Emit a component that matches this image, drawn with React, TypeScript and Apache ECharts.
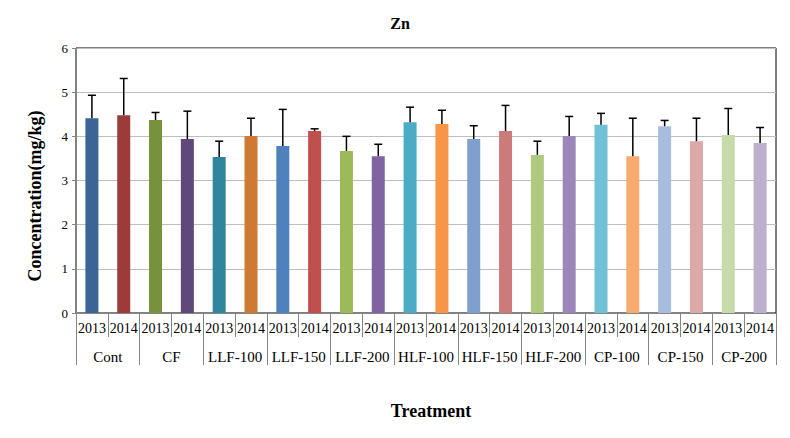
import React, { useEffect, useRef } from "react";
import * as echarts from "echarts";

const groups = ["Cont", "CF", "LLF-100", "LLF-150", "LLF-200", "HLF-100", "HLF-150", "HLF-200", "CP-100", "CP-150", "CP-200"];
const years = ["2013", "2014"];
const values = [4.41, 4.48, 4.37, 3.94, 3.53, 4.01, 3.78, 4.12, 3.67, 3.55, 4.32, 4.28, 3.94, 4.12, 3.58, 4.01, 4.26, 3.55, 4.23, 3.89, 4.03, 3.85];
const errTops = [4.93, 5.31, 4.54, 4.57, 3.89, 4.41, 4.61, 4.17, 4.0, 3.82, 4.66, 4.59, 4.24, 4.70, 3.89, 4.45, 4.52, 4.41, 4.36, 4.41, 4.63, 4.20];
const colors = [
  "#3B6497", "#9B3B3A", "#76923C", "#5F497A", "#31859C", "#CE7A32",
  "#4F81BD", "#C0504D", "#9BBB59", "#8064A2", "#4BACC6", "#F79646",
  "#7F9FCE", "#CD7B7A", "#AFC97F", "#9C88B8", "#71C0D4", "#F9AB6F",
  "#A8BDDE", "#DBA9A8", "#C8DAAC", "#BBB0CD",
];
const titleText = "Zn";
const yName = "Concentration(mg/kg)";
const xName = "Treatment";

const serif = "'Liberation Serif', 'Times New Roman', serif";

export default function App() {
  const ref = useRef<HTMLDivElement>(null);
  useEffect(() => {
    if (!ref.current) return;
    const chart = echarts.init(ref.current, null, { renderer: "svg" });
    const yearLabels: string[] = [];
    groups.forEach(() => years.forEach((y) => yearLabels.push(y)));
    chart.setOption({
      animation: false,
      backgroundColor: "#fff",
      title: [
        { text: titleText, left: 395, top: 10, textAlign: "center", textStyle: { fontFamily: serif, fontSize: 16, fontWeight: "bold", color: "#000" } },
        { text: xName, left: 426, top: 397, textAlign: "center", textStyle: { fontFamily: serif, fontSize: 18, fontWeight: "bold", color: "#000" } },
      ],
      graphic: [
        {
          type: "text",
          x: 35,
          y: 196,
          rotation: Math.PI / 2,
          style: {
            text: yName,
            fontFamily: serif,
            fontSize: 18,
            fontWeight: "bold",
            fill: "#000",
            align: "center",
            verticalAlign: "middle",
          },
        },
      ],
      grid: { left: 76, right: 14, top: 48, bottom: 125, show: true, borderColor: "#000", borderWidth: 1 },
      xAxis: [
        {
          type: "category",
          data: yearLabels,
          position: "bottom",
          axisLine: { lineStyle: { color: "#868686" } },
          axisTick: { show: true, interval: 0, length: 24, lineStyle: { color: "#868686" } },
          axisLabel: { interval: 0, margin: 8, fontFamily: serif, fontSize: 14, color: "#000" },
        },
        {
          type: "category",
          data: groups,
          position: "bottom",
          axisLine: { show: false },
          axisTick: { show: true, interval: 0, length: 52, lineStyle: { color: "#868686" } },
          axisLabel: { interval: 0, margin: 36, fontFamily: serif, fontSize: 15, color: "#000" },
        },
      ],
      yAxis: {
        type: "value",
        min: 0,
        max: 6,
        interval: 1,
        axisLine: { show: true, lineStyle: { color: "#868686" } },
        axisTick: { show: true, length: 4, lineStyle: { color: "#868686" } },
        axisLabel: { fontFamily: serif, fontSize: 13, color: "#000", margin: 8 },
        splitLine: { lineStyle: { color: "#BEBEBE" } },
      },
      series: [
        {
          type: "bar",
          xAxisIndex: 0,
          barWidth: 13,
          data: values.map((v, i) => ({ value: v, itemStyle: { color: colors[i] } })),
        },
        {
          type: "custom",
          xAxisIndex: 0,
          data: values.map((v, i) => [i, v, errTops[i]]),
          z: 10,
          renderItem: (params: any, api: any) => {
            const idx = api.value(0);
            const base = api.coord([idx, api.value(1)]);
            const top = api.coord([idx, api.value(2)]);
            const style = { stroke: "#000", lineWidth: 1.5 };
            return {
              type: "group",
              children: [
                { type: "line", shape: { x1: base[0], y1: base[1], x2: top[0], y2: top[1] }, style },
                { type: "line", shape: { x1: top[0] - 4, y1: top[1], x2: top[0] + 4, y2: top[1] }, style },
              ],
            };
          },
        },
      ],
    });
    return () => chart.dispose();
  }, []);
  return <div ref={ref} style={{ width: 790, height: 438, position: "fixed", left: 0, top: 0 }} />;
}
